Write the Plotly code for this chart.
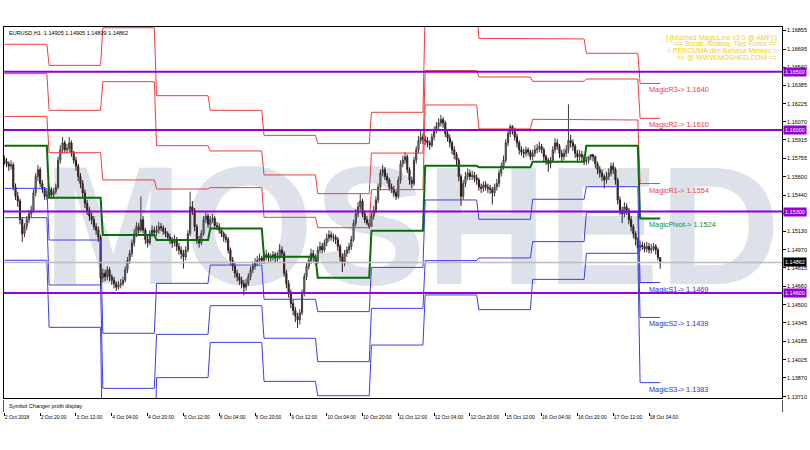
import plotly.graph_objects as go

# ---------------- data ----------------
symbol_header = "EURUSD,H1  1.14905 1.14905 1.14809 1.14862"
bar_index = list(range(294))

opens = [
    1.1575, 1.1573, 1.1571, 1.1569, 1.1570, 1.1551, 1.1543, 1.1539, 1.1523, 1.1511,
    1.1517, 1.1523, 1.1528, 1.1531, 1.1546, 1.1560, 1.1566, 1.1554, 1.1549, 1.1543,
    1.1544, 1.1549, 1.1544, 1.1547, 1.1551, 1.1574, 1.1583, 1.1589, 1.1583, 1.1584,
    1.1589, 1.1580, 1.1574, 1.1569, 1.1560, 1.1554, 1.1546, 1.1537, 1.1531, 1.1526,
    1.1523, 1.1517, 1.1514, 1.1508, 1.1473, 1.1477, 1.1474, 1.1480, 1.1474, 1.1471,
    1.1468, 1.1465, 1.1467, 1.1468, 1.1471, 1.1480, 1.1488, 1.1494, 1.1503, 1.1511,
    1.1517, 1.1514, 1.1523, 1.1514, 1.1506, 1.1503, 1.1511, 1.1514, 1.1512, 1.1514,
    1.1517, 1.1516, 1.1513, 1.1511, 1.1508, 1.1506, 1.1503, 1.1506, 1.1500, 1.1497,
    1.1494, 1.1491, 1.1497, 1.1511, 1.1534, 1.1531, 1.1517, 1.1506, 1.1503, 1.1511,
    1.1523, 1.1526, 1.1519, 1.1523, 1.1524, 1.1518, 1.1517, 1.1514, 1.1511, 1.1508,
    1.1506, 1.1497, 1.1488, 1.1483, 1.1477, 1.1474, 1.1471, 1.1468, 1.1465, 1.1468,
    1.1474, 1.1480, 1.1483, 1.1486, 1.1488, 1.1490, 1.1488, 1.1491, 1.1493, 1.1490,
    1.1491, 1.1493, 1.1490, 1.1491, 1.1497, 1.1494, 1.1477, 1.1468, 1.1460, 1.1451,
    1.1445, 1.1440, 1.1437, 1.1443, 1.1460, 1.1474, 1.1483, 1.1488, 1.1494, 1.1491,
    1.1487, 1.1497, 1.1500, 1.1497, 1.1503, 1.1507, 1.1510, 1.1508, 1.1508, 1.1506,
    1.1500, 1.1491, 1.1486, 1.1494, 1.1497, 1.1500, 1.1506, 1.1520, 1.1528, 1.1534,
    1.1539, 1.1528, 1.1523, 1.1520, 1.1517, 1.1526, 1.1531, 1.1540, 1.1551, 1.1563,
    1.1566, 1.1560, 1.1557, 1.1551, 1.1549, 1.1546, 1.1543, 1.1557, 1.1571, 1.1574,
    1.1577, 1.1566, 1.1557, 1.1554, 1.1574, 1.1583, 1.1591, 1.1594, 1.1592, 1.1591,
    1.1589, 1.1587, 1.1594, 1.1600, 1.1603, 1.1606, 1.1609, 1.1606, 1.1597, 1.1593,
    1.1589, 1.1583, 1.1579, 1.1574, 1.1560, 1.1543, 1.1554, 1.1560, 1.1563, 1.1560,
    1.1561, 1.1559, 1.1557, 1.1551, 1.1550, 1.1553, 1.1551, 1.1550, 1.1549, 1.1546,
    1.1551, 1.1554, 1.1563, 1.1569, 1.1574, 1.1589, 1.1597, 1.1603, 1.1600, 1.1594,
    1.1589, 1.1583, 1.1581, 1.1580, 1.1583, 1.1581, 1.1577, 1.1580, 1.1583, 1.1584,
    1.1586, 1.1583, 1.1577, 1.1574, 1.1571, 1.1574, 1.1583, 1.1589, 1.1586, 1.1580,
    1.1577, 1.1580, 1.1583, 1.1591, 1.1589, 1.1586, 1.1580, 1.1577, 1.1579, 1.1577,
    1.1573, 1.1574, 1.1577, 1.1579, 1.1577, 1.1571, 1.1566, 1.1563, 1.1560, 1.1557,
    1.1560, 1.1563, 1.1569, 1.1566, 1.1557, 1.1540, 1.1531, 1.1528, 1.1534, 1.1531,
    1.1523, 1.1517, 1.1511, 1.1506, 1.1499, 1.1501, 1.1500, 1.1498, 1.1500, 1.1497,
    1.1498, 1.1500, 1.1497, 1.14905,
]
highs = [
    1.1578, 1.1576, 1.1573, 1.1574, 1.1572, 1.1554, 1.1547, 1.1541, 1.1525, 1.1520,
    1.1526, 1.1531, 1.1535, 1.1549, 1.1563, 1.1570, 1.1568, 1.1557, 1.1551, 1.1548,
    1.1552, 1.1551, 1.1550, 1.1554, 1.1577, 1.1587, 1.1594, 1.1591, 1.1588, 1.1594,
    1.1591, 1.1582, 1.1577, 1.1571, 1.1563, 1.1557, 1.1549, 1.1540, 1.1534, 1.1529,
    1.1526, 1.1520, 1.1517, 1.1510, 1.1481, 1.1480, 1.1483, 1.1482, 1.1476, 1.1474,
    1.1470, 1.1470, 1.1472, 1.1474, 1.1483, 1.1491, 1.1497, 1.1506, 1.1515, 1.1521,
    1.1520, 1.1543, 1.1526, 1.1516, 1.1509, 1.1514, 1.1518, 1.1517, 1.1518, 1.1521,
    1.1520, 1.1518, 1.1516, 1.1513, 1.1511, 1.1508, 1.1510, 1.1508, 1.1503, 1.1500,
    1.1497, 1.1500, 1.1514, 1.1547, 1.1539, 1.1533, 1.1519, 1.1509, 1.1514, 1.1526,
    1.1529, 1.1528, 1.1526, 1.1528, 1.1526, 1.1521, 1.1520, 1.1516, 1.1513, 1.1511,
    1.1508, 1.1499, 1.1491, 1.1486, 1.1480, 1.1477, 1.1474, 1.1471, 1.1472, 1.1477,
    1.1483, 1.1487, 1.1490, 1.1492, 1.1494, 1.1492, 1.1495, 1.1497, 1.1495, 1.1494,
    1.1496, 1.1495, 1.1495, 1.1502, 1.1500, 1.1496, 1.1480, 1.1471, 1.1463, 1.1454,
    1.1448, 1.1443, 1.1446, 1.1463, 1.1477, 1.1486, 1.1492, 1.1498, 1.1497, 1.1493,
    1.1500, 1.1504, 1.1503, 1.1506, 1.1511, 1.1514, 1.1513, 1.1511, 1.1510, 1.1508,
    1.1502, 1.1494, 1.1497, 1.1500, 1.1503, 1.1509, 1.1523, 1.1532, 1.1538, 1.1545,
    1.1541, 1.1531, 1.1526, 1.1523, 1.1529, 1.1535, 1.1543, 1.1554, 1.1566, 1.1570,
    1.1568, 1.1563, 1.1559, 1.1554, 1.1552, 1.1548, 1.1560, 1.1574, 1.1578, 1.1581,
    1.1579, 1.1568, 1.1560, 1.1577, 1.1586, 1.1595, 1.1599, 1.1597, 1.1595, 1.1594,
    1.1591, 1.1597, 1.1603, 1.1607, 1.1610, 1.1613, 1.1611, 1.1608, 1.1600, 1.1596,
    1.1591, 1.1586, 1.1581, 1.1576, 1.1562, 1.1557, 1.1564, 1.1567, 1.1566, 1.1565,
    1.1564, 1.1562, 1.1559, 1.1554, 1.1556, 1.1556, 1.1554, 1.1553, 1.1551, 1.1554,
    1.1558, 1.1566, 1.1572, 1.1578, 1.1592, 1.1600, 1.1605, 1.1604, 1.1602, 1.1597,
    1.1591, 1.1586, 1.1584, 1.1586, 1.1585, 1.1583, 1.1583, 1.1587, 1.1588, 1.1590,
    1.1588, 1.1585, 1.1579, 1.1576, 1.1577, 1.1586, 1.1593, 1.1592, 1.1588, 1.1583,
    1.1584, 1.1587, 1.1622, 1.1596, 1.1592, 1.1588, 1.1583, 1.1583, 1.1582, 1.1579,
    1.1577, 1.1578, 1.1579, 1.1579, 1.1578, 1.1573, 1.1569, 1.1566, 1.1562, 1.1564,
    1.1567, 1.1572, 1.1572, 1.1568, 1.1559, 1.1543, 1.1534, 1.1538, 1.1537, 1.1533,
    1.1526, 1.1519, 1.1513, 1.1508, 1.1505, 1.1504, 1.1503, 1.1504, 1.1503, 1.1502,
    1.1503, 1.1502, 1.1499, 1.14905,
]
lows = [
    1.1570, 1.1568, 1.1565, 1.1566, 1.1548, 1.1540, 1.1534, 1.1519, 1.1504, 1.1508,
    1.1514, 1.1520, 1.1525, 1.1529, 1.1543, 1.1556, 1.1551, 1.1546, 1.1540, 1.1540,
    1.1541, 1.1541, 1.1542, 1.1545, 1.1549, 1.1571, 1.1580, 1.1580, 1.1580, 1.1581,
    1.1577, 1.1571, 1.1565, 1.1556, 1.1550, 1.1542, 1.1533, 1.1527, 1.1522, 1.1519,
    1.1514, 1.1510, 1.1504, 1.1463, 1.1469, 1.1470, 1.1471, 1.1470, 1.1467, 1.1464,
    1.1462, 1.1463, 1.1464, 1.1466, 1.1469, 1.1477, 1.1485, 1.1491, 1.1500, 1.1508,
    1.1511, 1.1512, 1.1511, 1.1502, 1.1499, 1.1501, 1.1508, 1.1509, 1.1509, 1.1511,
    1.1513, 1.1510, 1.1508, 1.1505, 1.1502, 1.1499, 1.1500, 1.1496, 1.1493, 1.1489,
    1.1481, 1.1488, 1.1495, 1.1509, 1.1527, 1.1513, 1.1502, 1.1499, 1.1501, 1.1509,
    1.1520, 1.1516, 1.1516, 1.1520, 1.1515, 1.1514, 1.1511, 1.1508, 1.1504, 1.1503,
    1.1494, 1.1484, 1.1479, 1.1473, 1.1470, 1.1467, 1.1464, 1.1458, 1.1462, 1.1466,
    1.1471, 1.1477, 1.1480, 1.1483, 1.1485, 1.1485, 1.1485, 1.1488, 1.1487, 1.1487,
    1.1488, 1.1486, 1.1487, 1.1489, 1.1490, 1.1474, 1.1464, 1.1456, 1.1447, 1.1441,
    1.1435, 1.1430, 1.1433, 1.1441, 1.1457, 1.1471, 1.1480, 1.1485, 1.1487, 1.1484,
    1.1485, 1.1494, 1.1494, 1.1495, 1.1500, 1.1504, 1.1505, 1.1504, 1.1502, 1.1496,
    1.1487, 1.1478, 1.1483, 1.1491, 1.1494, 1.1497, 1.1504, 1.1517, 1.1525, 1.1531,
    1.1525, 1.1520, 1.1518, 1.1515, 1.1517, 1.1523, 1.1528, 1.1537, 1.1548, 1.1560,
    1.1557, 1.1554, 1.1548, 1.1546, 1.1543, 1.1540, 1.1541, 1.1554, 1.1568, 1.1571,
    1.1563, 1.1553, 1.1550, 1.1552, 1.1571, 1.1580, 1.1588, 1.1588, 1.1587, 1.1585,
    1.1583, 1.1585, 1.1591, 1.1597, 1.1600, 1.1603, 1.1602, 1.1594, 1.1590, 1.1585,
    1.1579, 1.1575, 1.1570, 1.1556, 1.1535, 1.1540, 1.1551, 1.1557, 1.1557, 1.1557,
    1.1555, 1.1553, 1.1548, 1.1546, 1.1547, 1.1548, 1.1546, 1.1545, 1.1536, 1.1543,
    1.1548, 1.1551, 1.1560, 1.1566, 1.1572, 1.1586, 1.1594, 1.1596, 1.1591, 1.1585,
    1.1579, 1.1578, 1.1576, 1.1577, 1.1578, 1.1574, 1.1574, 1.1577, 1.1580, 1.1581,
    1.1580, 1.1573, 1.1570, 1.1564, 1.1567, 1.1572, 1.1580, 1.1583, 1.1576, 1.1573,
    1.1574, 1.1577, 1.1580, 1.1585, 1.1582, 1.1576, 1.1573, 1.1574, 1.1573, 1.1570,
    1.1570, 1.1571, 1.1574, 1.1573, 1.1567, 1.1562, 1.1559, 1.1556, 1.1550, 1.1554,
    1.1557, 1.1560, 1.1562, 1.1553, 1.1536, 1.1527, 1.1520, 1.1525, 1.1527, 1.1519,
    1.1513, 1.1507, 1.1501, 1.1494, 1.1496, 1.1497, 1.1495, 1.1495, 1.1494, 1.1494,
    1.1496, 1.1493, 1.1488, 1.14809,
]
closes = [
    1.1573, 1.1571, 1.1569, 1.1570, 1.1551, 1.1543, 1.1539, 1.1523, 1.1511, 1.1517,
    1.1523, 1.1528, 1.1531, 1.1546, 1.1560, 1.1566, 1.1554, 1.1549, 1.1543, 1.1544,
    1.1549, 1.1544, 1.1547, 1.1551, 1.1574, 1.1583, 1.1589, 1.1583, 1.1584, 1.1589,
    1.1580, 1.1574, 1.1569, 1.1560, 1.1554, 1.1546, 1.1537, 1.1531, 1.1526, 1.1523,
    1.1517, 1.1514, 1.1508, 1.1473, 1.1477, 1.1474, 1.1480, 1.1474, 1.1471, 1.1468,
    1.1465, 1.1467, 1.1468, 1.1471, 1.1480, 1.1488, 1.1494, 1.1503, 1.1511, 1.1517,
    1.1514, 1.1523, 1.1514, 1.1506, 1.1503, 1.1511, 1.1514, 1.1512, 1.1514, 1.1517,
    1.1516, 1.1513, 1.1511, 1.1508, 1.1506, 1.1503, 1.1506, 1.1500, 1.1497, 1.1494,
    1.1491, 1.1497, 1.1511, 1.1534, 1.1531, 1.1517, 1.1506, 1.1503, 1.1511, 1.1523,
    1.1526, 1.1519, 1.1523, 1.1524, 1.1518, 1.1517, 1.1514, 1.1511, 1.1508, 1.1506,
    1.1497, 1.1488, 1.1483, 1.1477, 1.1474, 1.1471, 1.1468, 1.1465, 1.1468, 1.1474,
    1.1480, 1.1483, 1.1486, 1.1488, 1.1490, 1.1488, 1.1491, 1.1493, 1.1490, 1.1491,
    1.1493, 1.1490, 1.1491, 1.1497, 1.1494, 1.1477, 1.1468, 1.1460, 1.1451, 1.1445,
    1.1440, 1.1437, 1.1443, 1.1460, 1.1474, 1.1483, 1.1488, 1.1494, 1.1491, 1.1487,
    1.1497, 1.1500, 1.1497, 1.1503, 1.1507, 1.1510, 1.1508, 1.1508, 1.1506, 1.1500,
    1.1491, 1.1486, 1.1494, 1.1497, 1.1500, 1.1506, 1.1520, 1.1528, 1.1534, 1.1539,
    1.1528, 1.1523, 1.1520, 1.1517, 1.1526, 1.1531, 1.1540, 1.1551, 1.1563, 1.1566,
    1.1560, 1.1557, 1.1551, 1.1549, 1.1546, 1.1543, 1.1557, 1.1571, 1.1574, 1.1577,
    1.1566, 1.1557, 1.1554, 1.1574, 1.1583, 1.1591, 1.1594, 1.1592, 1.1591, 1.1589,
    1.1587, 1.1594, 1.1600, 1.1603, 1.1606, 1.1609, 1.1606, 1.1597, 1.1593, 1.1589,
    1.1583, 1.1579, 1.1574, 1.1560, 1.1543, 1.1554, 1.1560, 1.1563, 1.1560, 1.1561,
    1.1559, 1.1557, 1.1551, 1.1550, 1.1553, 1.1551, 1.1550, 1.1549, 1.1546, 1.1551,
    1.1554, 1.1563, 1.1569, 1.1574, 1.1589, 1.1597, 1.1603, 1.1600, 1.1594, 1.1589,
    1.1583, 1.1581, 1.1580, 1.1583, 1.1581, 1.1577, 1.1580, 1.1583, 1.1584, 1.1586,
    1.1583, 1.1577, 1.1574, 1.1571, 1.1574, 1.1583, 1.1589, 1.1586, 1.1580, 1.1577,
    1.1580, 1.1583, 1.1591, 1.1589, 1.1586, 1.1580, 1.1577, 1.1579, 1.1577, 1.1573,
    1.1574, 1.1577, 1.1579, 1.1577, 1.1571, 1.1566, 1.1563, 1.1560, 1.1557, 1.1560,
    1.1563, 1.1569, 1.1566, 1.1557, 1.1540, 1.1531, 1.1528, 1.1534, 1.1531, 1.1523,
    1.1517, 1.1511, 1.1506, 1.1499, 1.1501, 1.1500, 1.1498, 1.1500, 1.1497, 1.1498,
    1.1500, 1.1497, 1.14905, 1.14862,
]

# daily MagicLine pivot levels (one value per trading day)
day_start = [0, 20, 44, 68, 92, 116, 140, 164, 188, 212, 236, 260, 284]
day_end = [19, 43, 67, 91, 115, 139, 163, 187, 211, 235, 259, 283, 293]
level_r3 = [1.16736, 1.16555, 1.16878, 1.16295, 1.16169, 1.15954, 1.15883, 1.16152, 1.17031, 1.16787, 1.16782, 1.16659, 1.1640]
level_r2 = [1.16484, 1.16169, 1.16415, 1.15865, 1.15820, 1.15614, 1.15453, 1.15802, 1.16510, 1.16455, 1.16418, 1.16438, 1.1610]
level_r1 = [1.16117, 1.15805, 1.15571, 1.15493, 1.15505, 1.15250, 1.15161, 1.15488, 1.16215, 1.16009, 1.16092, 1.16086, 1.1554]
level_pivot = [1.15865, 1.15419, 1.15098, 1.15055, 1.15155, 1.14912, 1.14732, 1.15135, 1.15694, 1.15679, 1.15728, 1.15865, 1.1524]
level_s1 = [1.15499, 1.15055, 1.14254, 1.14683, 1.14840, 1.14546, 1.14440, 1.14820, 1.15399, 1.15233, 1.15405, 1.15513, 1.1469]
level_s2 = [1.15247, 1.14669, 1.13781, 1.14245, 1.14491, 1.14211, 1.14010, 1.14468, 1.14878, 1.14901, 1.15041, 1.15293, 1.1439]
level_s3 = [1.14881, 1.14305, 1.12937, 1.13873, 1.14176, 1.13841, 1.13718, 1.14153, 1.14583, 1.14457, 1.14717, 1.14941, 1.1383]
level_names = ["MagicR3", "MagicR2", "MagicR1", "MagicPivot", "MagicS1", "MagicS2", "MagicS3"]

round_levels = [1.16500, 1.16000, 1.15300, 1.14600]
bid_price = 1.14862

time_tick_bars = [0, 16, 32, 48, 64, 80, 96, 112, 128, 144, 160, 176, 192, 208, 224, 240, 256, 272, 288]
time_tick_labels = ["2 Oct 2018", "2 Oct 20:00", "3 Oct 12:00", "4 Oct 04:00", "4 Oct 20:00",
                    "5 Oct 12:00", "8 Oct 04:00", "8 Oct 20:00", "9 Oct 12:00", "10 Oct 04:00",
                    "10 Oct 20:00", "11 Oct 12:00", "12 Oct 04:00", "12 Oct 20:00", "15 Oct 12:00",
                    "16 Oct 04:00", "16 Oct 20:00", "17 Oct 12:00", "18 Oct 04:00"]
price_ticks = [1.16855, 1.16695, 1.16540, 1.16385, 1.16225, 1.16070, 1.15915, 1.15755, 1.15600,
               1.15440, 1.15285, 1.15130, 1.14970, 1.14815, 1.14660, 1.14500, 1.14345, 1.14185,
               1.14025, 1.13870, 1.13710]
promo_lines = ["[:[Moshed MagicLine v3.0 @ AMF]:]", "== Borak, Analisa, Tips Forex ==",
               "= PERCUMA dlm Bahasa Melayu =", "=> @ WWW.MOSHED.COM <="]
watermark_text = "MOSHED"
subwindow_title = "Symbol Changer profit display"

# ---------------- styling ----------------
X_RANGE = [-0.15, 347.4]
Y_RANGE = [1.136982, 1.168847]
FONT = "Liberation Sans, Arial, sans-serif"
RED = "#EE3E3E"
BLUE = "#3E3EE2"
GREEN = "#0B6B0B"
PURPLE = "#9400D3"

fig = go.Figure()

# watermark (base subplot, under everything)
fig.add_trace(go.Scatter(
    x=[182], y=[1.15035], mode="text", text=[watermark_text],
    textfont=dict(family=FONT, size=168, color="#DDE2EA", weight="bold"),
    textposition="middle center", xaxis="x2", yaxis="y", hoverinfo="skip", showlegend=False))

# empty indicator sub-window (keeps the bottom time axis and its frame)
fig.add_trace(go.Scatter(x=[bar_index[0]], y=[0.5], mode="markers", marker=dict(opacity=0),
                         xaxis="x", yaxis="y2", hoverinfo="skip", showlegend=False))

# candles (overlay subplot)
fig.add_trace(go.Candlestick(
    x=bar_index, open=opens, high=highs, low=lows, close=closes,
    increasing=dict(line=dict(color="#3A3A3A", width=1), fillcolor="#A8A8A8"),
    decreasing=dict(line=dict(color="#2A1A1A", width=1), fillcolor="#9B2A2A"),
    whiskerwidth=0, xaxis="x3", yaxis="y3", hoverinfo="skip", showlegend=False))


def step_xy(values):
    xs, ys = [], []
    for s, e, v in zip(day_start, day_end, values):
        xs += [s, e]
        ys += [v, v]
    return xs, ys


level_sets = [(level_r3, RED, 1), (level_r2, RED, 1), (level_r1, RED, 1),
              (level_pivot, GREEN, 2), (level_s1, BLUE, 1), (level_s2, BLUE, 1), (level_s3, BLUE, 1)]
for vals, col, w in level_sets:
    xs, ys = step_xy(vals)
    fig.add_trace(go.Scatter(x=xs, y=ys, mode="lines", line=dict(color=col, width=w),
                             xaxis="x3", yaxis="y3", hoverinfo="skip", showlegend=False))

shapes = [dict(type="line", xref="paper", x0=0, x1=1, yref="y", y0=bid_price, y1=bid_price,
               line=dict(color="#BDBDBD", width=1.6), layer="above")]
for lv in round_levels:
    shapes.append(dict(type="line", xref="paper", x0=0, x1=1, yref="y", y0=lv, y1=lv,
                       line=dict(color=PURPLE, width=2), layer="above"))

annotations = []
annotations.append(dict(text=symbol_header, xref="paper", yref="paper", x=0, y=1, xanchor="left",
                        yanchor="top", xshift=3, yshift=-1, showarrow=False,
                        font=dict(family=FONT, size=5.5, color="black")))
promo_y = [1.16793, 1.16741, 1.16681, 1.16624]
for txt, py in zip(promo_lines, promo_y):
    annotations.append(dict(text=txt, xref="paper", x=1, xanchor="right", xshift=-3, yref="y", y=py,
                            yanchor="middle", showarrow=False,
                            font=dict(family=FONT, size=7, color="#F5CF10")))

label_colors = [RED, RED, RED, "#178A17", "#2E2ED6", "#2E2ED6", "#2E2ED6"]
last_levels = [level_r3[-1], level_r2[-1], level_r1[-1], level_pivot[-1], level_s1[-1], level_s2[-1], level_s3[-1]]
for name, val, col in zip(level_names, last_levels, label_colors):
    annotations.append(dict(text=f"{name}-> {val:.4f}", xref="x2", x=287, xanchor="left",
                            yref="y", y=val, yanchor="top", yshift=0, showarrow=False,
                            font=dict(family=FONT, size=7.3, color=col)))

for lv in round_levels:
    annotations.append(dict(text=f"{lv:.5f}", xref="paper", x=1, xanchor="left", xshift=1,
                            yref="y", y=lv, yanchor="middle", showarrow=False, bgcolor=PURPLE,
                            borderpad=1, font=dict(family=FONT, size=5.5, color="white")))
annotations.append(dict(text=f"{bid_price:.5f}", xref="paper", x=1, xanchor="left", xshift=1,
                        yref="y", y=bid_price, yanchor="middle", showarrow=False, bgcolor="black",
                        borderpad=1, font=dict(family=FONT, size=5.5, color="white")))
annotations.append(dict(text=subwindow_title, xref="paper", x=0, xanchor="left", xshift=3,
                        yref="paper", y=0.0156, yanchor="middle", showarrow=False,
                        font=dict(family=FONT, size=5.5, color="black")))

fig.update_layout(
    width=810, height=450, margin=dict(l=3, r=25, t=27, b=38),
    paper_bgcolor="white", plot_bgcolor="white", showlegend=False,
    shapes=shapes, annotations=annotations,
    xaxis=dict(domain=[0, 1], anchor="y2", range=X_RANGE, tickvals=time_tick_bars,
               ticktext=time_tick_labels, ticks="outside", ticklen=3, tickcolor="black",
               ticklabelposition="outside right", tickangle=0,
               tickfont=dict(family=FONT, size=5, color="black"),
               showgrid=False, zeroline=False, showline=False, rangeslider=dict(visible=False)),
    yaxis2=dict(domain=[0, 0.0312], anchor="x", range=[0, 1], showticklabels=False, ticks="",
                showgrid=False, zeroline=False, showline=True, mirror=True,
                linecolor="#555555", linewidth=1),
    xaxis2=dict(anchor="y", range=X_RANGE, showticklabels=False, ticks="", showgrid=False,
                zeroline=False, showline=True, mirror=True, linecolor="black", linewidth=1,
                rangeslider=dict(visible=False)),
    yaxis=dict(domain=[0.0364, 1], anchor="x2", side="right", range=Y_RANGE,
               tickvals=price_ticks, ticktext=[f"{v:.5f}" for v in price_ticks],
               ticks="outside", ticklen=3, tickcolor="black",
               tickfont=dict(family=FONT, size=5.5, color="black"),
               showgrid=False, zeroline=False, showline=True, mirror=True,
               linecolor="black", linewidth=1),
    xaxis3=dict(overlaying="x2", anchor="y3", range=X_RANGE, visible=False,
                rangeslider=dict(visible=False)),
    yaxis3=dict(overlaying="y", anchor="x3", range=Y_RANGE, visible=False),
)

fig.write_html("out.html", config={"displayModeBar": False},
               post_script="document.body.style.margin='0';document.body.style.padding='0';")
